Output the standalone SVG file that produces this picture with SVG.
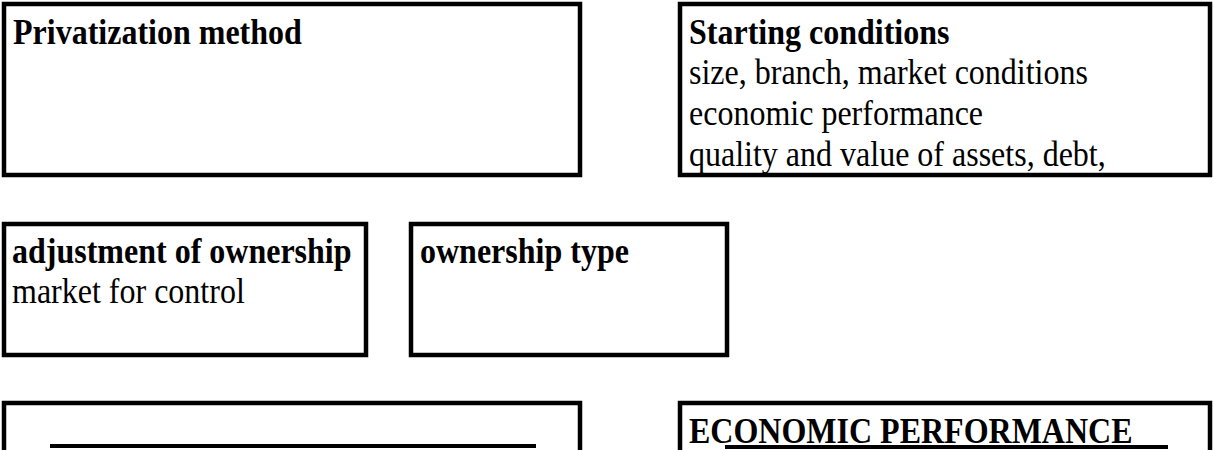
<svg xmlns="http://www.w3.org/2000/svg" width="1213" height="450" viewBox="0 0 1213 450">
<style>
.box{fill:#fff;stroke:#000;stroke-width:4.5}
.t{font-family:"Liberation Serif","Times New Roman",serif;font-size:32px;fill:#000}
.b{font-weight:bold}
.rule{stroke:#000;stroke-width:4}
</style>
<rect width="1213" height="450" fill="#fff"/>
<g id="privatization-method">
<rect class="box" x="4" y="4" width="576" height="171"/>
<text class="t b" transform="translate(13 44) scale(1 1.09)">Privatization method</text>
</g>
<g id="starting-conditions">
<rect class="box" x="680" y="4" width="530" height="171"/>
<text class="t b" transform="translate(689 44) scale(1 1.09)">Starting conditions</text>
<text class="t" transform="translate(689 84) scale(1 1.09)">size, branch, market conditions</text>
<text class="t" transform="translate(689 125) scale(1 1.09)">economic performance</text>
<text class="t" transform="translate(689 166) scale(1 1.09)">quality and value of assets, debt,</text>
</g>
<g id="adjustment-of-ownership">
<rect class="box" x="4" y="224" width="362" height="131"/>
<text class="t b" transform="translate(12 263) scale(1 1.09)">adjustment of ownership</text>
<text class="t" transform="translate(12 303) scale(1 1.09)">market for control</text>
</g>
<g id="ownership-type">
<rect class="box" x="411" y="224" width="316" height="131"/>
<text class="t b" transform="translate(420 263) scale(1 1.09)">ownership type</text>
</g>
<g id="bottom-left-box">
<rect class="box" x="4" y="403" width="576" height="80"/>
<line class="rule" x1="50" y1="446" x2="536" y2="446"/>
</g>
<g id="economic-performance">
<rect class="box" x="680" y="403" width="530" height="80"/>
<text class="t b" transform="translate(689 443) scale(1 1.09)">ECONOMIC PERFORMANCE</text>
<line class="rule" x1="725" y1="447" x2="1168" y2="447"/>
</g>
<g id="connectors"></g>
</svg>
